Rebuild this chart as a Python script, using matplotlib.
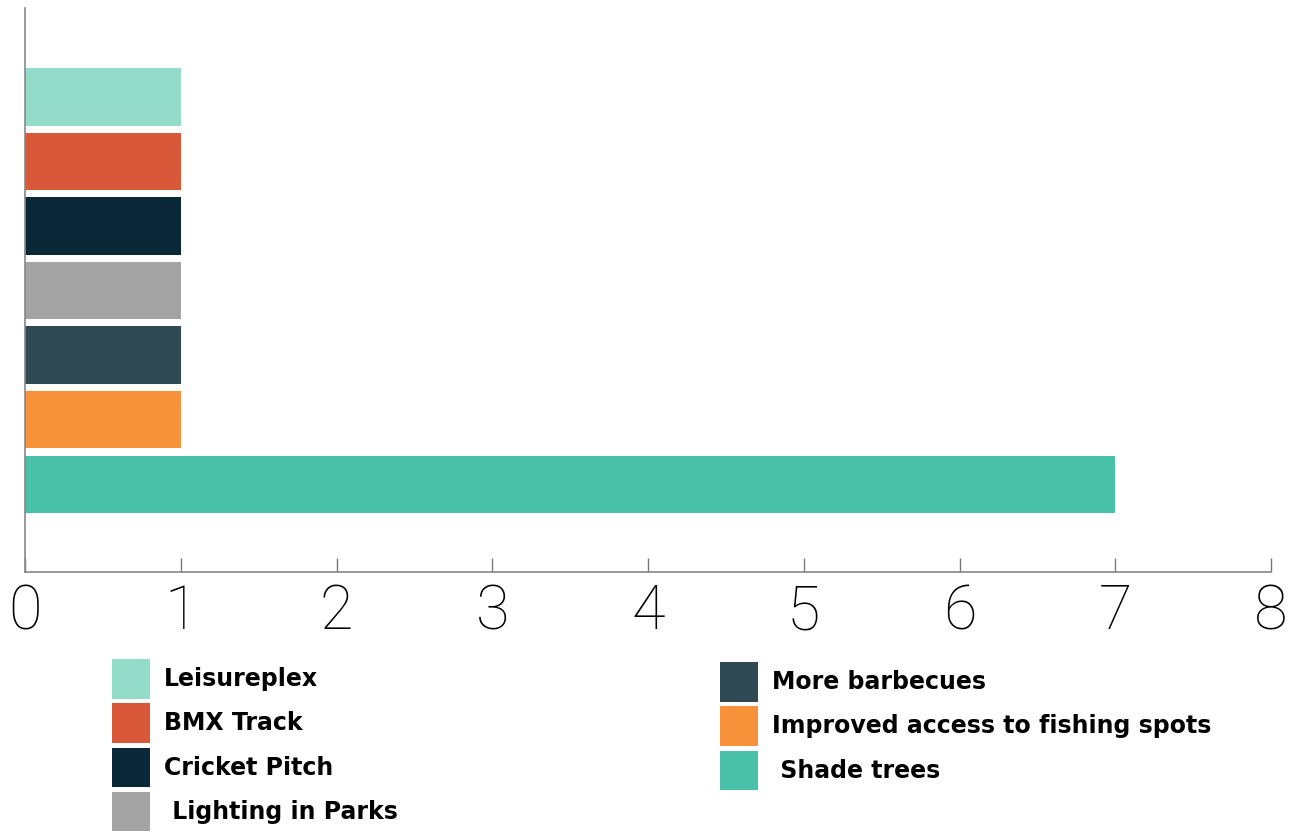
import matplotlib
matplotlib.use("Agg")
import matplotlib.pyplot as plt
from matplotlib.patches import Patch

# Requested park improvements (number of responses)
categories = ["Leisureplex", "BMX Track", "Cricket Pitch", " Lighting in Parks",
              "More barbecues", "Improved access to fishing spots", " Shade trees"]
counts = [1, 1, 1, 1, 1, 1, 7]
colors = ["#93dcc9", "#d9583a", "#0b2838", "#a4a3a3", "#2f4a55", "#f7923a", "#49c0a8"]
xticks = [0, 1, 2, 3, 4, 5, 6, 7, 8]

W, H = 1299, 834
fig = plt.figure(figsize=(W / 100, H / 100), dpi=100)
ax = fig.add_axes([25 / W, 1 - 572 / H, 1246 / W, 564 / H])

ypos = list(range(len(categories)))
ax.barh(ypos, counts, height=0.89, color=colors, edgecolor="none")

ax.set_xlim(0, 8)
ax.set_ylim(7.36, -1.38)
ax.set_xticks(xticks)
ax.set_xticklabels([str(t) for t in xticks], fontsize=44, family="Roboto", fontweight="light")
ax.set_yticks([])
ax.tick_params(axis="x", direction="in", length=10, width=1, color="#777777", pad=8)

for side in ["top", "right"]:
    ax.spines[side].set_visible(False)
for side in ["left", "bottom"]:
    ax.spines[side].set_color("#888888")
    ax.spines[side].set_linewidth(1.2)

# legend split in two columns placed independently
handles = [Patch(facecolor=c, edgecolor="none") for c in colors]
legend_kw = dict(loc="upper left", frameon=False, borderpad=0, borderaxespad=0,
                 handlelength=1.6, handleheight=2.2, handletextpad=0.6,
                 labelspacing=0.2,
                 prop={"family": "DejaVu Sans", "weight": "bold", "size": 17})
fig.legend(handles[:4], categories[:4], bbox_to_anchor=(112 / W, 1 - 659 / H), **legend_kw)
fig.legend(handles[4:], categories[4:], bbox_to_anchor=(720 / W, 1 - 662 / H), **legend_kw)

fig.savefig("out.png", dpi=100)
